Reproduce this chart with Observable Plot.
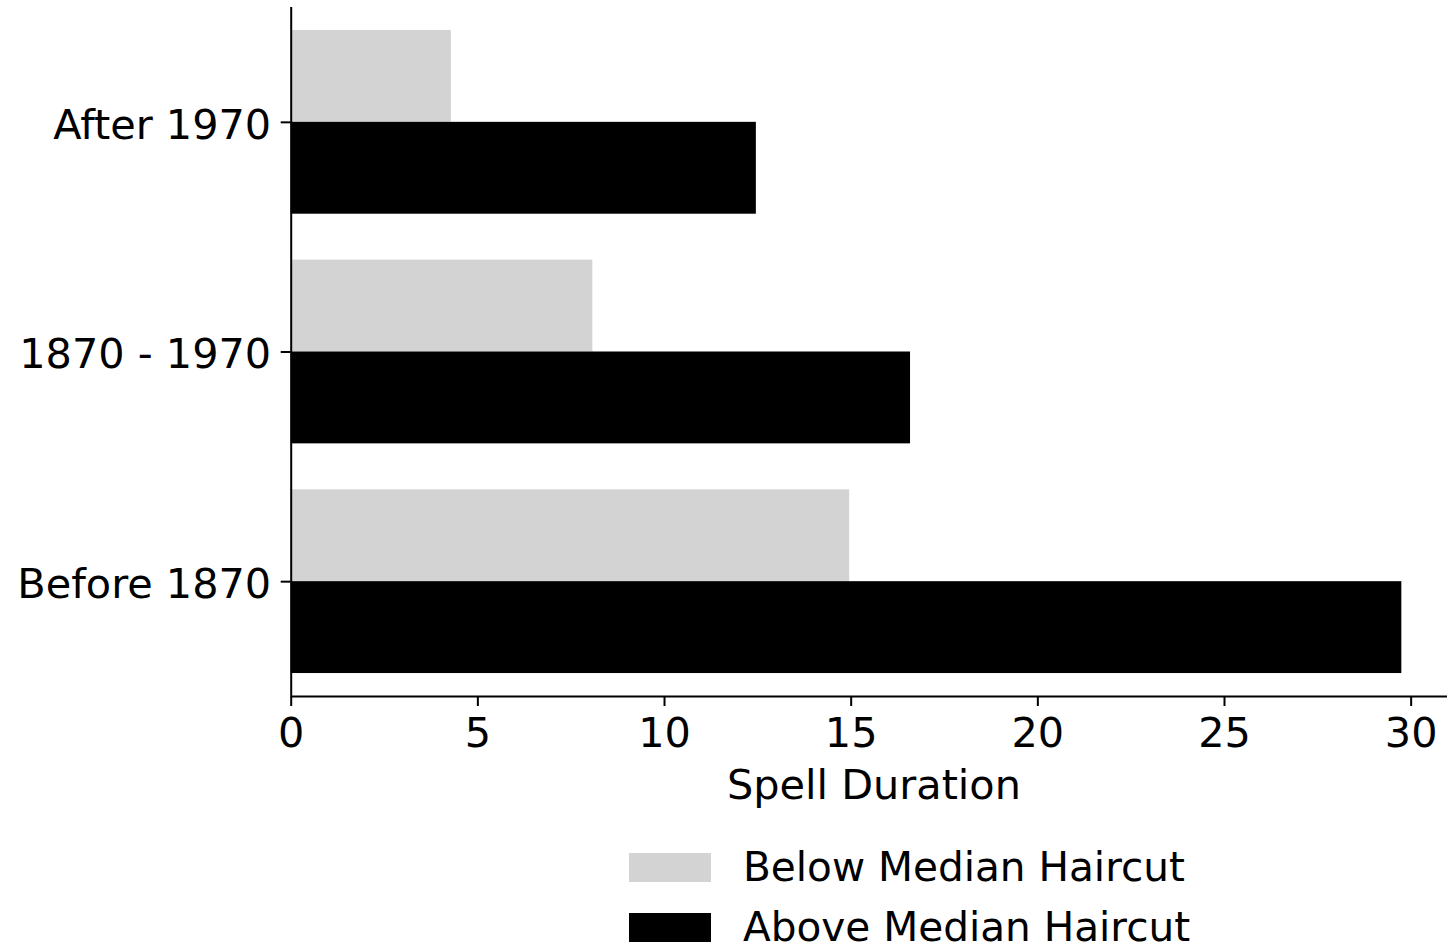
<!DOCTYPE html>
<html>
<head>
<meta charset="utf-8">
<script src="https://cdn.jsdelivr.net/npm/d3@7"></script>
<script src="https://cdn.jsdelivr.net/npm/@observablehq/plot@0.6"></script>
<style>
  html, body { margin: 0; padding: 0; background: #fff; overflow: hidden; width: 1447px; height: 946px; }
  #chart { width: 1460px; height: 830px; overflow: hidden; }
  #chart svg { display: block; max-width: none !important; width: 1460px !important; height: 830px !important; }
  #legend { margin-top: 7px; padding-left: 629px; font-family: "DejaVu Sans", sans-serif; font-size: 40.6px; color: #000; }
  .item { display: flex; align-items: center; height: 60px; white-space: nowrap; }
  .sw { width: 82px; height: 29px; margin-right: 32px; flex: none; }
</style>
</head>
<body>
<div id="chart"></div>
<div id="legend"></div>
<script>
// ---- data ----
const categories = ["Before 1870", "1870 - 1970", "After 1970"];
const belowMedian = [14.96, 8.08, 4.29];
const aboveMedian = [29.75, 16.59, 12.46];
const seriesNames = ["Below Median Haircut", "Above Median Haircut"];
const seriesColors = ["#d3d3d3", "#000000"];
const xTicks = [0, 5, 10, 15, 20, 25, 30];
const yTicks = [0, 1, 2];
const xDomain = [0, 31.22];
const yDomain = [-0.5, 2.5];
const xLabel = "Spell Duration";
const barHeight = 0.4;

const rows = categories.flatMap((c, i) => [
  {i, series: 0, value: belowMedian[i]},
  {i, series: 1, value: aboveMedian[i]}
]);

const chart = Plot.plot({
  width: 1460,
  height: 830,
  marginLeft: 290.7,
  marginRight: 3.8,
  marginTop: 7,
  marginBottom: 134,
  style: {fontFamily: "DejaVu Sans", fontSize: "41.4px", color: "#000", background: "#fff", maxWidth: "none"},
  x: {domain: xDomain},
  y: {domain: yDomain},
  color: {domain: seriesNames, range: seriesColors},
  marks: [
    Plot.rect(rows, {
      x1: 0,
      x2: "value",
      y1: d => d.series === 0 ? d.i : d.i - barHeight,
      y2: d => d.series === 0 ? d.i + barHeight : d.i,
      fill: d => seriesNames[d.series]
    }),
    Plot.ruleX([xDomain[0]], {stroke: "#000", strokeWidth: 2}),
    Plot.ruleY([yDomain[0]], {stroke: "#000", strokeWidth: 2}),
    Plot.axisX({ticks: xTicks, tickSize: 10, tickPadding: 11, strokeWidth: 2, label: null}),
    Plot.axisY({ticks: yTicks, tickSize: 10, tickFormat: () => "", strokeWidth: 2, label: null}),
    Plot.axisY({ticks: yTicks, tickSize: 0, tickPadding: 20, tickFormat: i => categories[i], dy: 3, label: null}),
    Plot.text([xLabel], {frameAnchor: "bottom", text: d => d, dy: 102, lineAnchor: "bottom", fontSize: 41.4})
  ]
});
document.getElementById("chart").appendChild(chart);

const legend = document.getElementById("legend");
seriesNames.forEach((name, k) => {
  const item = document.createElement("div");
  item.className = "item";
  const sw = document.createElement("div");
  sw.className = "sw";
  sw.style.background = seriesColors[k];
  const label = document.createElement("span");
  label.textContent = name;
  item.appendChild(sw);
  item.appendChild(label);
  legend.appendChild(item);
});
</script>
</body>
</html>
